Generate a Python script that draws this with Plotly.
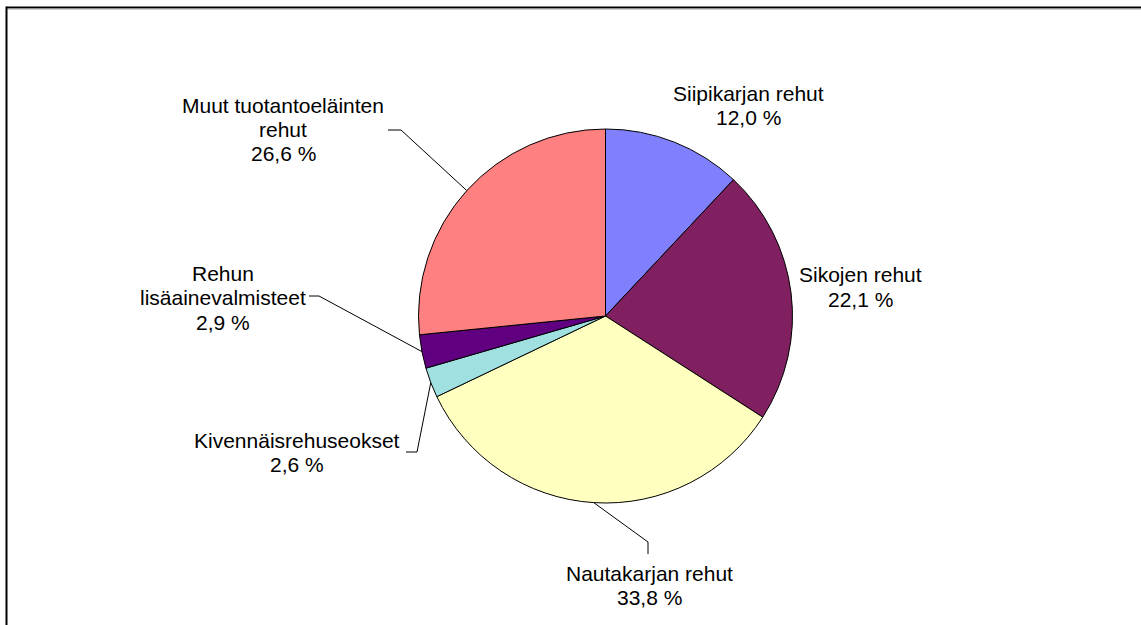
import math
import plotly.graph_objects as go

# ---- data ----
labels = ["Siipikarjan rehut", "Sikojen rehut", "Nautakarjan rehut",
          "Kivennäisrehuseokset", "Rehun lisäainevalmisteet", "Muut tuotantoeläinten rehut"]
values = [12.0, 22.1, 33.8, 2.6, 2.9, 26.6]
label_lines = [
    ["Siipikarjan rehut"],
    ["Sikojen rehut"],
    ["Nautakarjan rehut"],
    ["Kivennäisrehuseokset"],
    ["Rehun", "lisäainevalmisteet"],
    ["Muut tuotantoeläinten", "rehut"],
]
colors = ["#8080FF", "#802060", "#FFFFC0", "#A0E0E0", "#600080", "#FF8080"]

# ---- layout constants (pixels) ----
W, H = 1141, 625
CX, CY, R = 605.5, 316.0, 187.0
FONT = dict(family="Liberation Sans, Arial, sans-serif", size=21, color="#000000")
LINE_H = 24.5
# label block: x center, y center of first line
label_pos = [(748, 93), (860, 275), (649, 573), (297, 440), (223, 273), (283, 105)]
# leader lines: list of knee points (pixels) from text side toward pie edge
leaders = {
    2: [(648, 554), (648, 542)],
    3: [(406, 452), (417, 452)],
    4: [(309, 296), (319, 296)],
    5: [(388, 130), (401, 130)],
}

def px(x):
    return x / W

def py(y):
    return 1 - y / H

fig = go.Figure()
fig.add_trace(go.Pie(
    labels=labels, values=values, sort=False, direction="clockwise", rotation=0,
    marker=dict(colors=colors, line=dict(color="#000000", width=1)),
    textinfo="none", hoverinfo="label+percent", showlegend=False,
    domain=dict(x=[px(CX - R), px(CX + R)], y=[py(CY + R), py(CY - R)]),
))

annotations = []
shapes = []
total = sum(values)
cum = 0.0
for i, v in enumerate(values):
    mid = 2 * math.pi * (cum + v / 2) / total
    cum += v
    ex = CX + R * math.sin(mid)
    ey = CY - R * math.cos(mid)
    lx, ly = label_pos[i]
    lines = label_lines[i] + [f"{v:.1f} %".replace(".", ",")]
    for k, t in enumerate(lines):
        annotations.append(dict(
            x=px(lx), y=py(ly + k * LINE_H), xref="paper", yref="paper",
            text=t, showarrow=False, xanchor="center", yanchor="middle", font=FONT,
        ))
    if i in leaders:
        pts = leaders[i] + [(ex, ey)]
        path = "M " + " L ".join(f"{px(a)},{py(b)}" for a, b in pts)
        shapes.append(dict(type="path", xref="paper", yref="paper", path=path,
                           line=dict(color="#000000", width=1)))

# chart frame (left and top edges visible)
shapes.append(dict(type="line", xref="paper", yref="paper", x0=px(6.5), x1=1.0,
                   y0=py(7.5), y1=py(7.5), line=dict(color="#000000", width=2)))
shapes.append(dict(type="line", xref="paper", yref="paper", x0=px(8), x1=1.0,
                   y0=py(9), y1=py(9), line=dict(color="#A0A0A0", width=1)))
shapes.append(dict(type="line", xref="paper", yref="paper", x0=px(6.5), x1=px(6.5),
                   y0=py(6.5), y1=0.0, line=dict(color="#000000", width=2)))

fig.update_layout(
    width=W, height=H, margin=dict(l=0, r=0, t=0, b=0),
    paper_bgcolor="#FFFFFF", plot_bgcolor="#FFFFFF",
    annotations=annotations, shapes=shapes, showlegend=False,
)
fig.write_html("out.html", config={"displayModeBar": False},
               post_script="document.body.style.margin='0';document.body.style.overflow='hidden';")
